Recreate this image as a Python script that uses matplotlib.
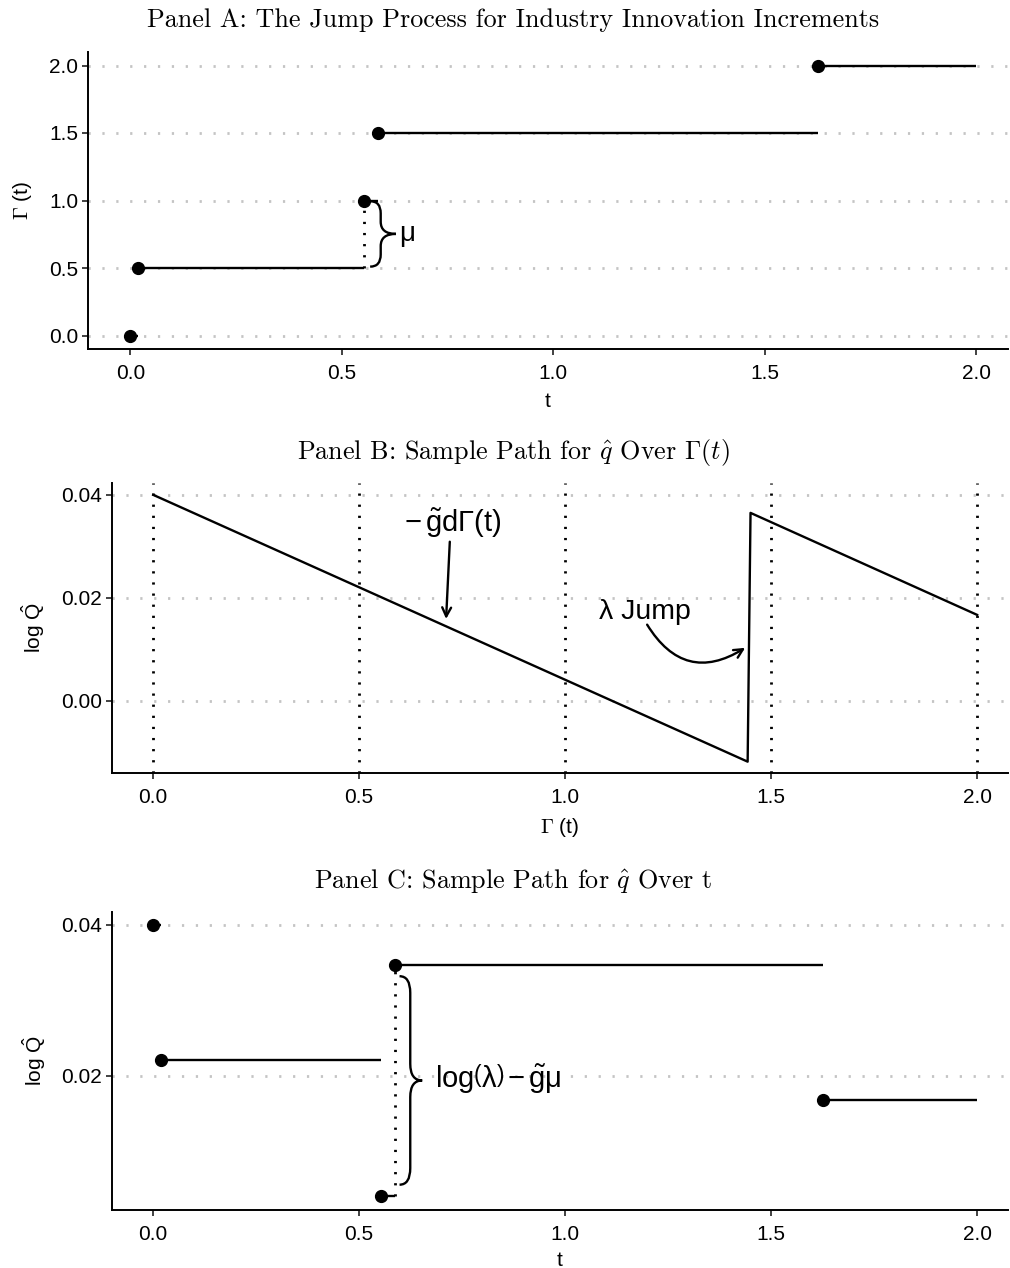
import numpy as np
import matplotlib
matplotlib.use("Agg")
import matplotlib.pyplot as plt
from matplotlib.path import Path
from matplotlib.patches import PathPatch

plt.rcParams['font.family'] = ['Liberation Sans', 'DejaVu Sans']
plt.rcParams['mathtext.fontset'] = 'custom'
plt.rcParams['mathtext.rm'] = 'Liberation Sans'
plt.rcParams['mathtext.it'] = 'Liberation Sans:italic'
plt.rcParams['mathtext.bf'] = 'Liberation Sans:bold'

# jump process: times of the jumps and level of Gamma after each jump
jump_t = [0.0, 0.019, 0.553, 0.586, 1.626]
gamma_lvl = [0.0, 0.5, 1.0, 1.5, 2.0]
t_end = 2.0

# sample path of log q over Gamma
path_gamma = [0.0, 1.443, 1.45, 2.0]
path_q = [0.04, -0.0118, 0.0365, 0.0167]
gamma_marks = [0.0, 0.5, 1.0, 1.5, 2.0]

# log q at each jump time (panel C)
q_at_jump = [0.04, 0.0221, 0.0041, 0.0347, 0.0168]

xticks = [0.0, 0.5, 1.0, 1.5, 2.0]
xticklabels = ["0.0", "0.5", "1.0", "1.5", "2.0"]
yticks_a = [0.0, 0.5, 1.0, 1.5, 2.0]
yticks_b = [0.0, 0.02, 0.04]
yticks_c = [0.02, 0.04]

W, H = 1010, 1268
fig = plt.figure(figsize=(W / 100, H / 100), dpi=100)

def box(l, t, r, b):
    return [l / W, 1 - b / H, (r - l) / W, (b - t) / H]

axA = fig.add_axes(box(88, 52, 1008, 349))
axB = fig.add_axes(box(112, 483, 1008, 773))
axC = fig.add_axes(box(112, 912, 1008, 1210))

LW = 1.7
grid_col = '#c4c4c4'

def style(ax, yt, ylabs):
    for s in ['top', 'right']:
        ax.spines[s].set_visible(False)
    for s in ['left', 'bottom']:
        ax.spines[s].set_linewidth(1.4)
    ax.set_xticks(xticks)
    ax.set_xticklabels(xticklabels)
    ax.set_yticks(yt)
    ax.set_yticklabels(ylabs)
    ax.tick_params(labelsize=15, length=4, width=1.3, color='#333333', pad=3)
    ax.tick_params(axis='x', pad=7)
    for y in yt:
        ax.axhline(y, color=grid_col, lw=2.0, ls=(0, (0.8, 4.2)), zorder=0)

def steps(ax, xs, ys):
    ends = list(xs[1:]) + [t_end]
    for x0, x1, y in zip(xs, ends, ys):
        ax.plot([x0, x1], [y, y], color='black', lw=LW, solid_capstyle='butt', zorder=3)
    ax.plot(xs, ys, 'o', color='black', ms=8.5, zorder=4)

def brace(ax, xl, xs, xt, ytop, ybot, r):
    ym = (ytop + ybot) / 2
    verts = [(xl, ytop), (xs, ytop), (xs, ytop - r),
             (xs, ym + r),
             (xs, ym), (xt, ym),
             (xs, ym), (xs, ym - r),
             (xs, ybot + r),
             (xs, ybot), (xl, ybot)]
    codes = [Path.MOVETO, Path.CURVE3, Path.CURVE3,
             Path.LINETO,
             Path.CURVE3, Path.CURVE3,
             Path.CURVE3, Path.CURVE3,
             Path.LINETO,
             Path.CURVE3, Path.CURVE3]
    ax.add_patch(PathPatch(Path(verts, codes), fill=False, lw=LW, color='black', zorder=3))

# Panel A
steps(axA, jump_t, gamma_lvl)
axA.plot([jump_t[2], jump_t[2]], [gamma_lvl[1], gamma_lvl[2]], color='black',
         lw=2.0, ls=(0, (0.8, 3.2)), zorder=2)
brace(axA, 0.567, 0.592, 0.628, 0.995, 0.51, 0.09)
axA.text(0.636, 0.75, "μ", fontsize=20, va='center', ha='left')
style(axA, yticks_a, ["0.0", "0.5", "1.0", "1.5", "2.0"])
axA.set_xlim(-0.1, 2.075)
axA.set_ylim(-0.1, 2.1)
axA.set_xlabel("t", fontsize=15, labelpad=6)
axA.set_ylabel(r"$\Gamma$ (t)", fontsize=15, labelpad=11, math_fontfamily='cm')

# Panel B
for g in gamma_marks:
    axB.axvline(g, color='black', lw=2.0, ls=(0, (0.8, 3.2)), zorder=1)
axB.plot(path_gamma, path_q, color='black', lw=LW, zorder=3)
axB.annotate("", xy=(0.711, 0.0159), xytext=(0.72, 0.0309),
             arrowprops=dict(arrowstyle='->', lw=LW, color='black',
                             mutation_scale=16, shrinkA=0, shrinkB=0))
axB.text(0.727, 0.0344, r"$\mathrm{-\,\tilde{g}d\Gamma(t)}$", fontsize=21,
         ha='center', va='center')
axB.annotate("", xy=(1.437, 0.0103), xytext=(1.199, 0.0148),
             arrowprops=dict(arrowstyle='->', lw=LW, color='black',
                             mutation_scale=16, shrinkA=0, shrinkB=0,
                             connectionstyle='arc3,rad=0.5'))
axB.text(1.194, 0.0173, "λ Jump", fontsize=20.5, ha='center', va='center')
style(axB, yticks_b, ["0.00", "0.02", "0.04"])
axB.set_xlim(-0.1, 2.075)
axB.set_ylim(-0.014, 0.0423)
axB.set_xlabel(r"$\Gamma$ (t)", fontsize=15, labelpad=6, math_fontfamily='cm')
axB.set_ylabel(r"log $\mathrm{\hat{Q}}$", fontsize=15, labelpad=10)

# Panel C
steps(axC, jump_t, q_at_jump)
axC.plot([jump_t[3], jump_t[3]], [q_at_jump[2], q_at_jump[3]], color='black',
         lw=2.0, ls=(0, (0.8, 3.2)), zorder=2)
brace(axC, 0.598, 0.624, 0.653, 0.0332, 0.0056, 0.0022)
axC.text(0.683, 0.0195,
         r"$\mathrm{log}\left(\mathrm{\lambda}\right)\,\mathrm{-}\,\mathrm{\tilde{g}\mu}$",
         fontsize=21, ha='left', va='center')
style(axC, yticks_c, ["0.02", "0.04"])
axC.set_xlim(-0.1, 2.075)
axC.set_ylim(0.00225, 0.0417)
axC.set_xlabel("t", fontsize=15, labelpad=5)
axC.set_ylabel(r"log $\mathrm{\hat{Q}}$", fontsize=15, labelpad=10)

# titles
fig.text(513 / W, 1 - 20 / H, "Panel A: The Jump Process for Industry Innovation Increments",
         family='cmr10', fontsize=18.8, ha='center', va='center')
fig.text(513 / W, 1 - 452 / H, r"Panel B: Sample Path for $\hat{q}$ Over $\Gamma(t)$",
         family='cmr10', fontsize=18.8, ha='center', va='center', math_fontfamily='cm')
fig.text(513 / W, 1 - 882 / H, r"Panel C: Sample Path for $\hat{q}$ Over t",
         family='cmr10', fontsize=18.8, ha='center', va='center', math_fontfamily='cm')

fig.savefig("out.png", dpi=100)
